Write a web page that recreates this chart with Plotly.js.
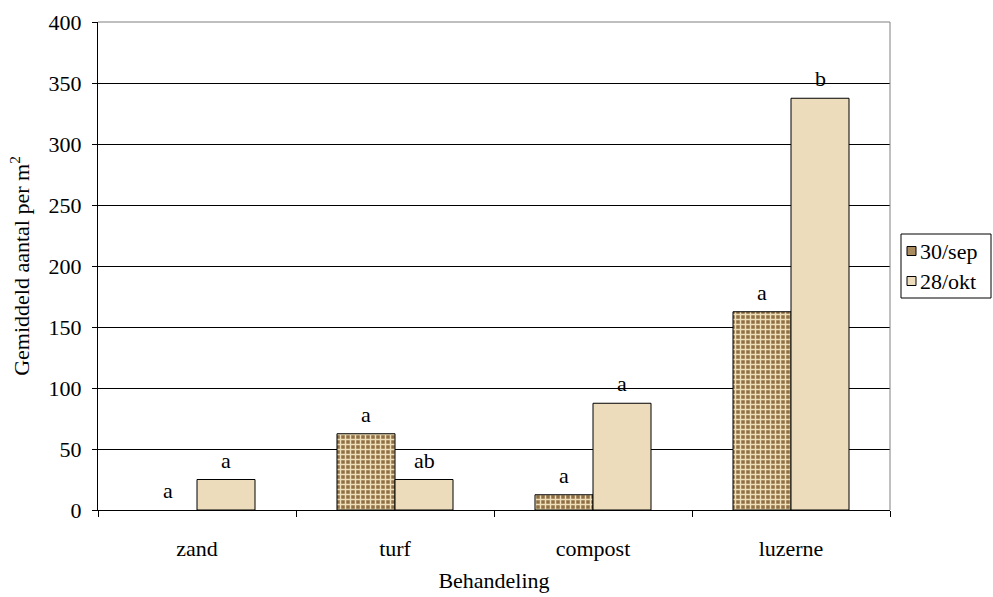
<!DOCTYPE html>
<html>
<head>
<meta charset="utf-8">
<script src="https://cdn.plot.ly/plotly-3.0.1.min.js"></script>
<style>html,body{margin:0;padding:0;background:#fff;}#chart{width:993px;height:597px;}</style>
</head>
<body>
<div id="chart"></div>
<script>
const categories = ["zand", "turf", "compost", "luzerne"];
const seriesNames = ["30/sep", "28/okt"];
const sep30 = [0, 62.5, 12.5, 162.5];
const okt28 = [25, 25, 87.5, 337.5];
const sepLetters = ["a", "a", "a", "a"];
const oktLetters = ["a", "ab", "a", "b"];
const yTicks = [0, 50, 100, 150, 200, 250, 300, 350, 400];

const font = "Liberation Serif";
const FS = 22;
const bargap = 0.414;
const barW = (1 - bargap) / 2;

// plot area in pixels (for the hand-built legend box)
const M = {l: 98, r: 103, t: 22, b: 87};
const W = 993, H = 597;
const pw = W - M.l - M.r, ph = H - M.t - M.b;
const px = v => (v - M.l) / pw;
const py = v => (H - M.b - v) / ph;

const sepColor = "#8f6f43";
const oktColor = "#ecdcbb";

const traces = [
  {
    type: "bar", name: seriesNames[0], x: categories, y: sep30, showlegend: false,
    marker: {
      color: sepColor,
      line: {color: "#000", width: sep30.map(v => v === 0 ? 0 : 1)},
      pattern: {shape: "+", fgcolor: "#eedfba", bgcolor: sepColor, size: 5, solidity: 0.5}
    }
  },
  {
    type: "bar", name: seriesNames[1], x: categories, y: okt28, showlegend: false,
    marker: {color: oktColor, line: {color: "#000", width: okt28.map(v => v === 0 ? 0 : 1)}}
  }
];

const annotations = [];
categories.forEach((c, i) => {
  annotations.push({x: i - barW / 2, y: sep30[i], xref: "x", yref: "y", text: sepLetters[i],
    showarrow: false, yanchor: "bottom", yshift: 5, font: {family: font, size: FS, color: "#000"}});
  annotations.push({x: i + barW / 2, y: okt28[i], xref: "x", yref: "y", text: oktLetters[i],
    showarrow: false, yanchor: "bottom", yshift: 5, font: {family: font, size: FS, color: "#000"}});
});

// legend (built from series names)
const legRows = [251, 281];
const legFills = ["#ab8c60", oktColor];
const shapes = [
  {type: "line", xref: "paper", yref: "paper", x0: 0, x1: 1, y0: 1, y1: 1, line: {color: "#808080", width: 1}, layer: "above"},
  {type: "line", xref: "paper", yref: "paper", x0: 1, x1: 1, y0: 0, y1: 1, line: {color: "#808080", width: 1}, layer: "above"},
  {type: "rect", xref: "paper", yref: "paper", x0: px(901), x1: px(991), y0: py(234), y1: py(298),
    line: {color: "#000", width: 1}, fillcolor: "#fff", layer: "above"}
];
seriesNames.forEach((n, k) => {
  const cy = legRows[k];
  shapes.push({type: "rect", xref: "paper", yref: "paper", x0: px(907), x1: px(916), y0: py(cy - 4.5), y1: py(cy + 4.5),
    line: {color: "#000", width: 1}, fillcolor: legFills[k], layer: "above"});
  annotations.push({xref: "paper", yref: "paper", x: px(918), y: py(cy), xanchor: "left", yanchor: "middle",
    text: n, showarrow: false, font: {family: font, size: FS, color: "#000"}});
});

const layout = {
  width: W, height: H,
  margin: {l: M.l, r: M.r, t: M.t, b: M.b, pad: 0, autoexpand: false},
  paper_bgcolor: "#fff", plot_bgcolor: "#fff",
  font: {family: font, size: FS, color: "#000"},
  barmode: "group", bargap: bargap, bargroupgap: 0,
  showlegend: false,
  xaxis: {
    type: "category", range: [-0.5, 3.5],
    showline: true, linecolor: "#000", linewidth: 1,
    ticks: "outside", ticklen: 6, tickcolor: "#000", tickson: "boundaries",
    showgrid: false, ticklabelstandoff: 19,
    tickfont: {family: font, size: FS},
    title: {text: "Behandeling", font: {family: font, size: FS}, standoff: 12}
  },
  yaxis: {
    range: [0, 400], tickvals: yTicks,
    showline: true, linecolor: "#000", linewidth: 1,
    ticks: "outside", ticklen: 5, tickcolor: "#000",
    showgrid: true, gridcolor: "#000", gridwidth: 1, zeroline: false,
    ticklabelstandoff: 6,
    tickfont: {family: font, size: FS},
    title: {text: "Gemiddeld aantal per m<sup>2</sup>", font: {family: font, size: FS}, standoff: 12}
  },
  shapes: shapes,
  annotations: annotations
};

Plotly.newPlot("chart", traces, layout, {displayModeBar: false, staticPlot: true});
</script>
</body>
</html>
